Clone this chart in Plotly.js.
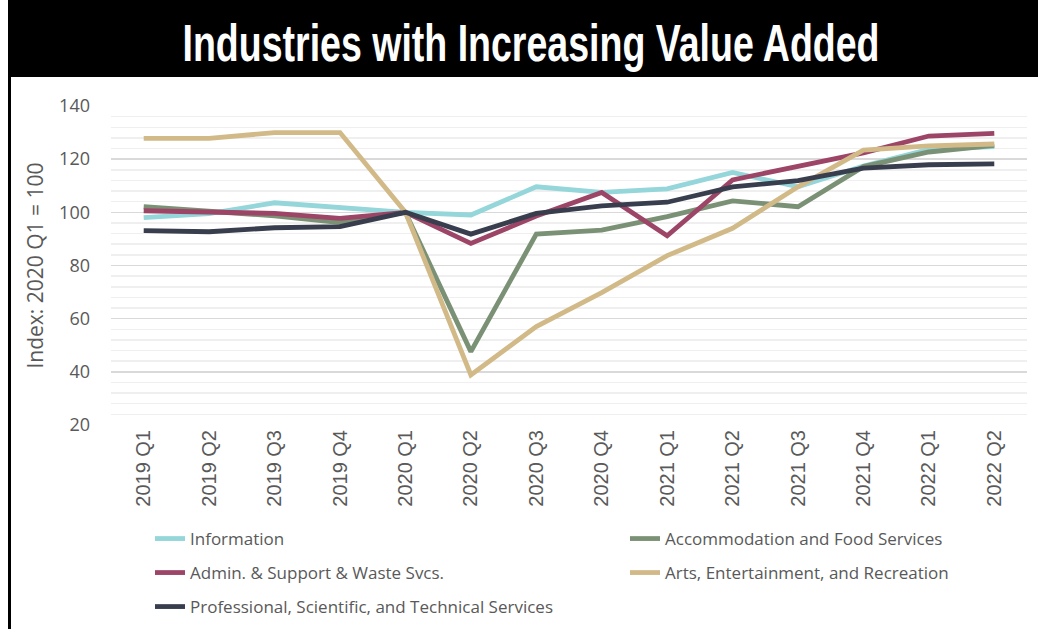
<!DOCTYPE html>
<html>
<head>
<meta charset="utf-8">
<script src="https://cdn.plot.ly/plotly-3.0.1.min.js"></script>
<style>
  html, body { margin: 0; padding: 0; background: #fff; }
  #chart { width: 1038px; height: 629px; }
</style>
</head>
<body>
<div id="chart"></div>
<script>
const categories = ["2019 Q1","2019 Q2","2019 Q3","2019 Q4","2020 Q1","2020 Q2","2020 Q3","2020 Q4","2021 Q1","2021 Q2","2021 Q3","2021 Q4","2022 Q1","2022 Q2"];

const information   = [98.0, 99.5, 103.6, 101.9, 100, 99.0, 109.6, 107.5, 108.8, 115.0, 109.6, 117.4, 123.7, 124.7];
const accommodation = [102.1, 100.5, 98.7, 96.1, 100, 47.6, 91.8, 93.3, 98.4, 104.3, 102.1, 117.2, 122.7, 125.2];
const admin         = [100.6, 100.2, 99.6, 97.7, 100, 88.3, 98.6, 107.5, 91.2, 112.2, 117.4, 122.4, 128.7, 129.7];
const arts          = [127.8, 127.8, 130.0, 130.0, 100, 38.8, 57.0, 69.8, 83.7, 94.0, 109.6, 123.4, 125.0, 125.7];
const professional  = [93.1, 92.7, 94.2, 94.6, 100, 91.8, 99.6, 102.4, 103.8, 109.6, 111.9, 116.6, 117.9, 118.2];

const seriesNames = ["Information", "Accommodation and Food Services", "Admin. & Support & Waste Svcs.", "Arts, Entertainment, and Recreation", "Professional, Scientific, and Technical Services"];
const chartTitle = "Industries with Increasing Value Added";
const yTitle = "Index: 2020 Q1 = 100";

const W = 1038, H = 629;
const M = {l: 111, r: 11, t: 106, b: 204, autoexpand: false};
const PW = W - M.l - M.r, PH = H - M.t - M.b;
const px = x => (x - M.l) / PW;
const py = y => (H - M.b - y) / PH;

const colors = ["#94D6D9", "#7B9175", "#9C4566", "#D2BA88", "#383E4D"];
const values = [information, accommodation, admin, arts, professional];
const legendIds = ["legend", "legend2", "legend3", "legend4", "legend5"];
// legend slot positions (text left x, row centre y) in pixels
const legendPos = [[150, 539], [625, 539], [150, 573], [625, 573], [150, 607]];

const traces = values.map((v, i) => ({
  type: "scatter",
  mode: "lines",
  x: categories,
  y: v,
  name: seriesNames[i],
  legend: legendIds[i],
  line: {color: colors[i], width: 4.8},
  hoverinfo: "x+y+name"
}));

const legendFont = {family: "'Open Sans', sans-serif", size: 17, color: "#595959"};
function mkLegend(p) {
  return {
    orientation: "h",
    x: px(p[0]), xanchor: "left",
    y: py(p[1]), yanchor: "middle",
    font: legendFont,
    bgcolor: "rgba(0,0,0,0)"
  };
}

const layout = {
  width: W, height: H,
  margin: M,
  paper_bgcolor: "#ffffff",
  plot_bgcolor: "#ffffff",
  showlegend: true,
  title: {
    text: chartTitle,
    x: 531 / W, xanchor: "center", xref: "container",
    y: 1 - 43 / H, yanchor: "middle", yref: "container",
    font: {family: "Liberation Sans Narrow, Liberation Sans, DejaVu Sans", size: 52, color: "#ffffff", weight: 700}
  },
  xaxis: {
    type: "category",
    range: [-0.5, categories.length - 0.5],
    showgrid: false, zeroline: false, showline: false,
    tickangle: -90,
    ticks: "",
    tickfont: {family: "'Liberation Sans', Arial, sans-serif", size: 20, color: "#595959"},
    fixedrange: true
  },
  yaxis: {
    range: [20, 140],
    dtick: 20,
    tick0: 20,
    showgrid: true, gridcolor: "#d9d9d9", gridwidth: 1.5,
    minor: {dtick: 4, tick0: 20, showgrid: true, gridcolor: "#efefef", gridwidth: 1.5},
    zeroline: false, showline: false,
    ticks: "",
    ticklabelstandoff: 20,
    tickfont: {family: "'Open Sans', sans-serif", size: 18, color: "#595959"},
    title: {text: yTitle, standoff: 9, font: {family: "'Open Sans', sans-serif", size: 21, color: "#595959"}},
    fixedrange: true
  },
  shapes: [
    {type: "rect", xref: "paper", yref: "paper", x0: px(8), x1: px(1040), y0: py(77), y1: py(-2), fillcolor: "#000000", line: {width: 0}, layer: "below"},
    {type: "line", xref: "paper", yref: "paper", x0: px(9.5), x1: px(9.5), y0: py(77), y1: py(631), line: {color: "#000000", width: 3}}
  ]
};
legendIds.forEach((id, i) => { layout[id] = mkLegend(legendPos[i]); });

Plotly.newPlot("chart", traces, layout, {displayModeBar: false, staticPlot: true}).then(gd => {
  // condense the banner title to the reference's narrow display face
  const t = gd.querySelector(".gtitle");
  if (t) {
    t.setAttribute("textLength", "697");
    t.setAttribute("lengthAdjust", "spacingAndGlyphs");
  }
});
</script>
</body>
</html>
